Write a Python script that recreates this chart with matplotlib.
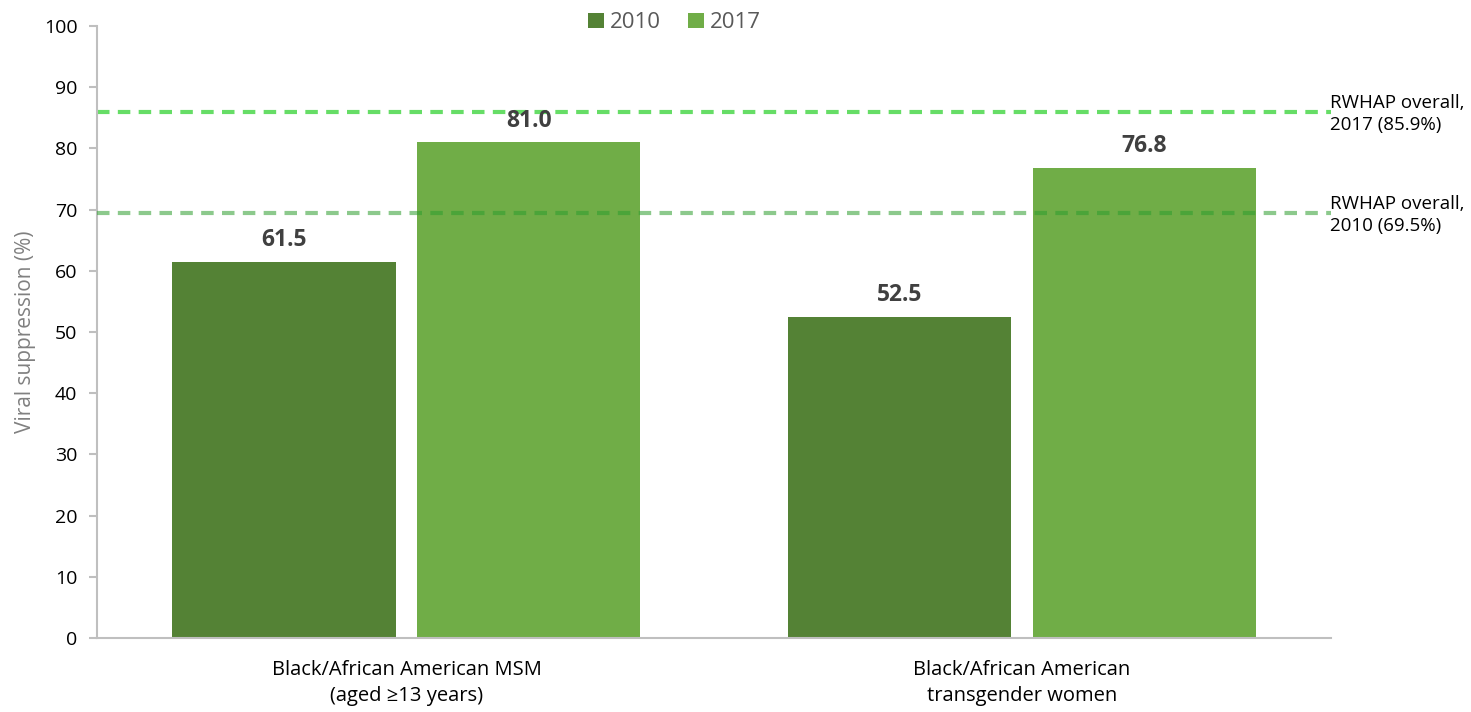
import matplotlib.pyplot as plt
import numpy as np

plt.rcParams['font.family'] = ['Open Sans', 'DejaVu Sans']

categories = ["Black/African American MSM\n(aged \u226513 years)",
              "Black/African American\ntransgender women"]
years = ["2010", "2017"]
vals_2010 = [61.5, 52.5]
vals_2017 = [81.0, 76.8]
overall = {"2017": 85.9, "2010": 69.5}
overall_labels = ["RWHAP overall,\n2017 (85.9%)", "RWHAP overall,\n2010 (69.5%)"]

c2010 = '#548235'
c2017 = '#70AD47'

fig = plt.figure(figsize=(14.71, 7.12), dpi=100)
ax = fig.add_axes([0.0659, 0.1039, 0.8392, 0.8596])

x = np.arange(len(categories))
w = 0.3625
off = 0.199
b1 = ax.bar(x - off, vals_2010, w, color=c2010, label=years[0], zorder=2)
b2 = ax.bar(x + off, vals_2017, w, color=c2017, label=years[1], zorder=2)

for bars, vals in ((b1, vals_2010), (b2, vals_2017)):
    for r, v in zip(bars, vals):
        ax.annotate(f"{v:.1f}", (r.get_x() + r.get_width() / 2, v),
                    xytext=(0, 7), textcoords='offset points',
                    ha='center', va='bottom', fontsize=16.5, fontweight='bold',
                    color='#404040')

# reference lines
ax.axhline(overall["2017"], color='#66dd66', lw=3, ls=(0, (3, 2)), zorder=1)
ax.axhline(overall["2010"], color='#2e9e2e', lw=3, ls=(0, (3, 2)), alpha=0.55, zorder=3)
for val, lab in zip([overall["2017"], overall["2010"]], overall_labels):
    ax.annotate(lab, (1.0, val), xycoords=('axes fraction', 'data'),
                xytext=(-1, 13), textcoords='offset points',
                ha='left', va='top', fontsize=13.5, color='#000000',
                annotation_clip=False, linespacing=1.3)

ax.set_xlim(-0.503, 1.503)
ax.set_ylim(0, 100)
ax.set_yticks(np.arange(0, 101, 10))
ax.set_xticks(x)
ax.set_xticklabels(categories, fontsize=14.5, color='#000000', linespacing=1.4)
ax.tick_params(axis='x', length=0, pad=16)
ax.tick_params(axis='y', labelsize=14, colors='#000000', length=6,
               width=1.5, color='#bfbfbf', pad=8)
ax.set_ylabel("Viral suppression (%)", fontsize=15, color='#808080', labelpad=6)

for s in ('top', 'right'):
    ax.spines[s].set_visible(False)
for s in ('left', 'bottom'):
    ax.spines[s].set_color('#bfbfbf')
    ax.spines[s].set_linewidth(1.5)

leg = ax.legend(loc='center', bbox_to_anchor=(0.468, 1.005), ncol=2, frameon=False,
                fontsize=16, handlelength=0.7, handleheight=0.7,
                handletextpad=0.3, columnspacing=1.2)
for t in leg.get_texts():
    t.set_color('#595959')

fig.savefig('out.png', dpi=100)
